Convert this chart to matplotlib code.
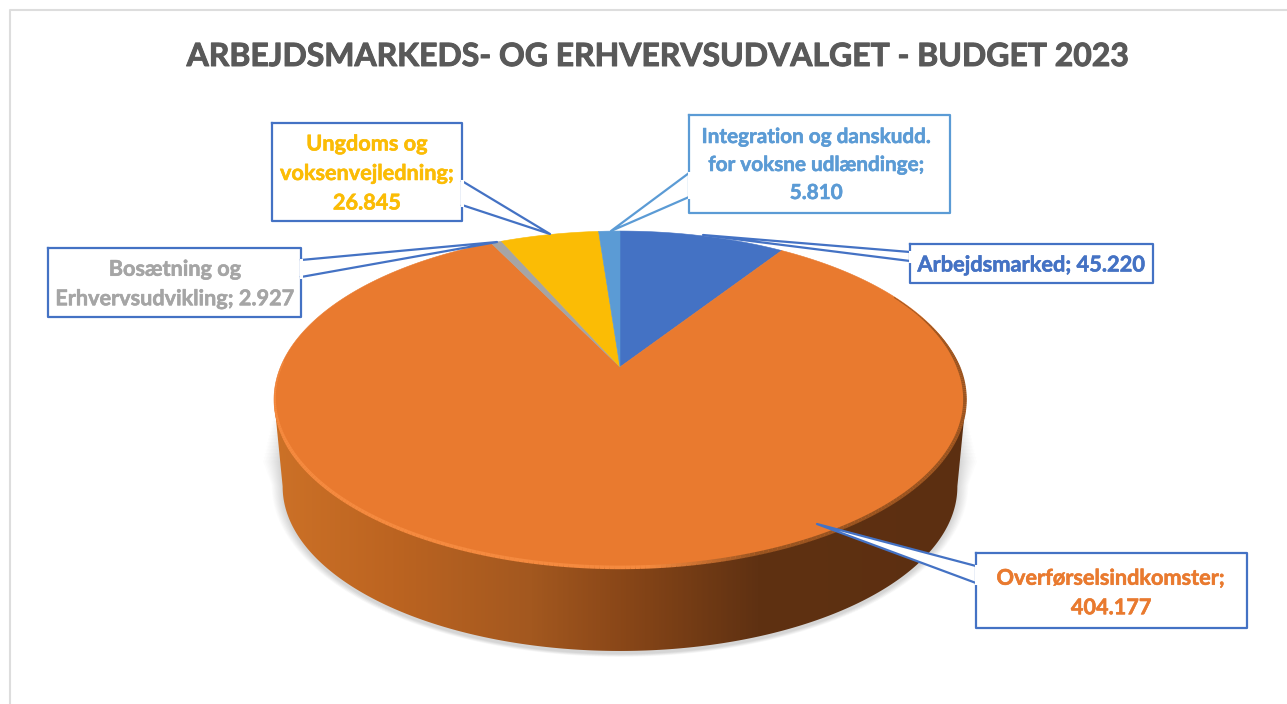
import numpy as np
import matplotlib
matplotlib.use('Agg')
import matplotlib.pyplot as plt
import matplotlib.patheffects as pe
from matplotlib.collections import LineCollection
from matplotlib.colors import LinearSegmentedColormap, to_rgb
from matplotlib.patches import Polygon

plt.rcParams['font.family'] = ['Lato', 'DejaVu Sans']

# data
title = 'ARBEJDSMARKEDS- OG ERHVERVSUDVALGET - BUDGET 2023'
categories = ['Arbejdsmarked', 'Overførselsindkomster', 'Bosætning og Erhvervsudvikling',
              'Ungdoms og voksenvejledning', 'Integration og danskudd. for voksne udlændinge']
values = [45.220, 404.177, 2.927, 26.845, 5.810]
value_labels = ['45.220', '404.177', '2.927', '26.845', '5.810']
label_lines = [
    'Arbejdsmarked; {}',
    'Overførselsindkomster;\n{}',
    'Bosætning og\nErhvervsudvikling; {}',
    'Ungdoms og\nvoksenvejledning;\n{}',
    'Integration og danskudd.\nfor voksne udlændinge;\n{}',
]

# styles
colors = ['#4472C4', '#E97A2F', '#A5A5A5', '#FBBC05', '#5B9BD5']
box_colors = ['#4472C4', '#4472C4', '#4472C4', '#4472C4', '#5B9BD5']
label_sizes = [15.7, 15.6, 15.6, 15.6, 14.9]

# callout layout in pixels: box (x0, y0, x1, y1), pointer (start, tip, end)
boxes = [(910, 244, 1153, 283), (976, 553, 1247, 628), (48, 248, 301, 317),
         (272, 123, 462, 221), (689, 115, 950, 213)]
pointers = [[(910, 252), (703, 235), (910, 261)],
            [(976, 566), (817, 524), (976, 583)],
            [(301, 260), (497, 242), (301, 277)],
            [(462, 181), (550, 234), (462, 205)],
            [(689, 173), (611, 231), (689, 197)]]
text_centers = [(1031, 265), (1111, 593), (175, 284), (367, 173.5), (816, 165)]

# pie geometry, perspective circle -> pixels
cx, cy = 620, 367
persp = 0.193
scale_x, scale_y = 339.5, 162.2
depth = 88
bottom_f = 0.975


def project(theta, f=1.0, dy=0.0):
    sx, cy_ = np.sin(theta), np.cos(theta)
    w = 1 + persp * cy_
    return cx + f * scale_x * sx / w, cy + dy - f * scale_y * cy_ / w


fig = plt.figure(figsize=(12.87, 7.04), dpi=100)
ax = fig.add_axes([0, 0, 1, 1])

# outer chart frame
ax.plot([10, 10, 1287], [704, 10, 10], color='#DDDDDD', lw=1.5, zorder=1)

ring = np.linspace(0, 2 * np.pi, 721)
tx, ty = project(ring)
bx, by = project(ring, bottom_f, depth)

# side wall outline: widest points of the top, lower half of the bottom ellipse
left_i, right_i = np.argmin(tx), np.argmax(tx)
b_right, b_left = np.argmax(bx), np.argmin(bx)
low = np.arange(b_right, b_left + 1)
side_x = np.r_[tx[right_i], bx[low], tx[left_i]]
side_y = np.r_[ty[right_i], by[low], ty[left_i]]

# soft shadow under the pie, wider layers start lower so the top fades out
sc_x, sc_y = side_x.mean(), side_y.mean()
for i in range(14):
    grow = 1 + 0.0025 * i
    sh_y = side_y.copy()
    sh_y[0] += 12 + 4 * i
    sh_y[-1] += 12 + 4 * i
    ax.fill(sc_x + (side_x - sc_x) * grow, sc_y + (sh_y - sc_y) * (grow + 0.001 * i) + 3,
            color='#808080', alpha=0.022, lw=0, zorder=2)

# side wall with horizontal gradient
wall = LinearSegmentedColormap.from_list('wall', [
    (0.00, '#CC7127'), (0.17, '#BC6421'), (0.37, '#A3581F'), (0.50, '#8A4718'),
    (0.70, '#5F3112'), (1.00, '#5C2F11')])
im = ax.imshow(np.linspace(0, 1, 400)[None, :], cmap=wall, aspect='auto',
               extent=[tx.min(), tx.max(), by.max() + 2, ty.min()], zorder=3)
clip = Polygon(np.c_[side_x, side_y], closed=True, transform=ax.transData,
               fc='none', ec='none')
ax.add_patch(clip)
im.set_clip_path(clip)

# top face, one polygon per slice
edges = np.r_[0, np.cumsum(values)] / np.sum(values) * 2 * np.pi
for start, stop, col in zip(edges[:-1], edges[1:], colors):
    th = np.linspace(start, stop, max(int((stop - start) * 150), 4))
    px, py = project(th)
    ax.fill(np.r_[cx, px], np.r_[cy, py], color=col, lw=0.4, zorder=4)

# rim of the top face, light on the left and dark on the right, tapered at the ends
rim_th = np.linspace(np.radians(62), np.radians(272), 300)
rx, ry = project(rim_th, 0.997)
segs = np.stack([np.c_[rx[:-1], ry[:-1]], np.c_[rx[1:], ry[1:]]], axis=1)
light, dark = np.array(to_rgb('#F58A3F')), np.array(to_rgb('#9A5420'))
mix = np.clip((rx[:-1] - 650) / 110, 0, 1)[:, None]
taper = np.clip(np.minimum(np.arange(299), 298 - np.arange(299)) / 40, 0.25, 1)
ax.add_collection(LineCollection(segs, colors=light * (1 - mix) + dark * mix,
                                 linewidths=2.6 * taper, zorder=5))

# callouts
for i in range(len(values)):
    x0, y0, x1, y1 = boxes[i]
    ax.fill([x0, x1, x1, x0], [y0, y0, y1, y1], color='white', lw=0, zorder=6)
    ax.plot([x0, x1, x1, x0, x0], [y0, y0, y1, y1, y0], color=box_colors[i], lw=1.6, zorder=7)
    ax.fill(*zip(*pointers[i]), color='white', lw=0, zorder=6)
    ax.plot(*zip(*pointers[i]), color=box_colors[i], lw=1.6, zorder=7)
    # white gap where the pointer meets the box
    p0, p2 = pointers[i][0], pointers[i][2]
    ax.plot([p0[0], p2[0]], [p0[1], p2[1]], color='white', lw=2.2, zorder=7.5)
    ax.text(text_centers[i][0], text_centers[i][1], label_lines[i].format(value_labels[i]),
            color=colors[i], fontsize=label_sizes[i], fontweight='bold', ha='center', va='center',
            multialignment='center', linespacing=1.5, zorder=8,
            path_effects=[pe.withStroke(linewidth=0.4, foreground=colors[i])])

ax.text(659, 56.5, title, color='#595959', fontsize=23, fontweight='bold',
        ha='center', va='center', zorder=8,
        path_effects=[pe.withStroke(linewidth=0.7, foreground='#595959')])

ax.set_xlim(0, 1287)
ax.set_ylim(704, 0)
ax.axis('off')
fig.savefig('out.png', dpi=100)
